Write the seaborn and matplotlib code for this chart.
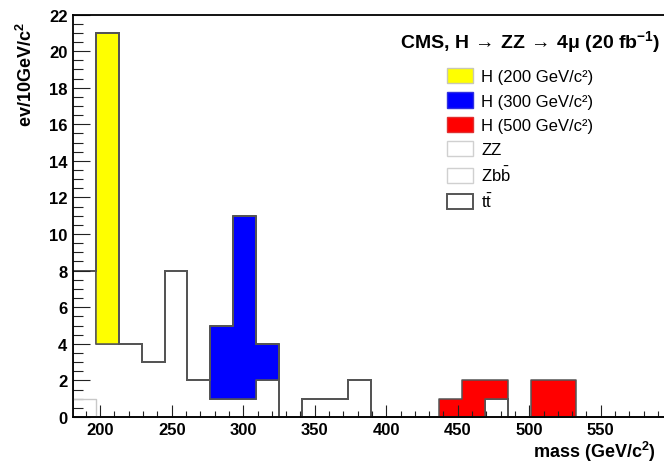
import numpy as np
import pandas as pd
import matplotlib
matplotlib.use("Agg")
import matplotlib.pyplot as plt
import seaborn as sns
from matplotlib.patches import Patch
from matplotlib.ticker import MultipleLocator

# ---- data (16 GeV bins starting at 181 GeV) ----
x_min = 181
bin_width = 16
n_bins = 26
edges = (x_min + bin_width * np.arange(n_bins + 1)).tolist()
centers = [e + bin_width / 2 for e in edges[:-1]]

# total background (ZZ + Zbb + tt), dark outline
bkg_total = [8, 4, 4, 3, 8, 2, 1, 1, 2, 0, 1, 1, 2, 0, 0, 0, 0, 0, 1, 0, 0, 0, 0, 0, 0, 0]
# lower background component (light grey outline)
bkg_low = [1, 0, 0, 0, 0, 0, 0, 0, 0, 0, 0, 0, 0, 0, 0, 0, 0, 0, 0, 0, 0, 0, 0, 0, 0, 0]
h200 = [0, 17, 0, 0, 0, 0, 0, 0, 0, 0, 0, 0, 0, 0, 0, 0, 0, 0, 0, 0, 0, 0, 0, 0, 0, 0]
h300 = [0, 0, 0, 0, 0, 0, 4, 10, 2, 0, 0, 0, 0, 0, 0, 0, 0, 0, 0, 0, 0, 0, 0, 0, 0, 0]
h500 = [0, 0, 0, 0, 0, 0, 0, 0, 0, 0, 0, 0, 0, 0, 0, 0, 1, 2, 1, 0, 2, 2, 0, 0, 0, 0]

legend_labels = ["H (200 GeV/c²)", "H (300 GeV/c²)", "H (500 GeV/c²)",
                 "ZZ", r"Zb$\bar{b}$", r"t$\bar{t}$"]

rows = []
for name, vals in [("H500", h500), ("H300", h300), ("H200", h200), ("bkg", bkg_total)]:
    for c, v in zip(centers, vals):
        rows.append((c, v, name))
df = pd.DataFrame(rows, columns=["mass", "w", "comp"])
df_low = pd.DataFrame({"mass": centers, "w": bkg_low})

# ---- style ----
plt.rcParams["font.family"] = ["Liberation Sans", "DejaVu Sans"]
plt.rcParams["font.weight"] = "bold"
plt.rcParams["mathtext.fontset"] = "custom"
plt.rcParams["mathtext.rm"] = "Liberation Sans"
plt.rcParams["mathtext.bf"] = "Liberation Sans:bold"
plt.rcParams["mathtext.it"] = "Liberation Sans:italic"
plt.rcParams["mathtext.default"] = "regular"

W, H = 664, 464
fig = plt.figure(figsize=(W / 100, H / 100), dpi=100)
ax = fig.add_axes([73 / W, 46 / H, 595 / W, 402.5 / H])

edge_dark = "#555555"
palette = {"H500": "#ff0000", "H300": "#0000ff", "H200": "#ffff00", "bkg": "white"}

sns.histplot(data=df, x="mass", weights="w", hue="comp",
             hue_order=["H500", "H300", "H200", "bkg"], palette=palette,
             bins=edges, multiple="stack", element="step", fill=True, alpha=1,
             edgecolor=edge_dark, linewidth=1.1, legend=False, ax=ax)

sns.histplot(data=df_low, x="mass", weights="w", bins=edges, element="step", fill=False,
             color="#c8c8c8", linewidth=1.0, ax=ax)

ax.set_xlim(181, 597)
ax.set_ylim(0, 22)
ax.set_xlabel("")
ax.set_ylabel("")

ax.xaxis.set_major_locator(MultipleLocator(50))
ax.xaxis.set_minor_locator(MultipleLocator(10))
ax.yaxis.set_major_locator(MultipleLocator(2))
ax.yaxis.set_minor_locator(MultipleLocator(0.5))
ax.tick_params(which="both", direction="in", top=False, right=False, color="#222222", width=0.8)
ax.tick_params(axis="x", which="major", length=8.5, pad=3.5, labelsize=12)
ax.tick_params(axis="x", which="minor", length=4.3)
ax.tick_params(axis="y", which="major", length=12.5, pad=4, labelsize=12)
ax.tick_params(axis="y", which="minor", length=7)
ax.spines["right"].set_visible(False)
for s in ["left", "bottom", "top"]:
    ax.spines[s].set_linewidth(1.3)

# ---- texts ----
fig.text(660 / W, 1 - 48 / H,
         r"CMS, H$\,\rightarrow\,$ZZ$\,\rightarrow\,$4μ (20 fb$^{-1}$)",
         ha="right", va="baseline", fontsize=14, fontweight="bold")
fig.text(656 / W, 1 - 458 / H, "mass (GeV/c$^{2}$)", ha="right", va="baseline",
         fontsize=13, fontweight="bold")
fig.text(26 / W, 1 - 75 / H, "ev/10GeV/c$^{2}$", rotation=90, ha="center", va="center",
         fontsize=13, fontweight="bold")

# ---- legend ----
handles = [
    Patch(facecolor="#ffff00", edgecolor="#c8c8b4", linewidth=1.0, label=legend_labels[0]),
    Patch(facecolor="#0000ff", edgecolor="#3030e0", linewidth=1.0, label=legend_labels[1]),
    Patch(facecolor="#ff0000", edgecolor="#e03030", linewidth=1.0, label=legend_labels[2]),
    Patch(facecolor="white", edgecolor="#d0d0d0", linewidth=1.0, label=legend_labels[3]),
    Patch(facecolor="white", edgecolor="#d0d0d0", linewidth=1.0, label=legend_labels[4]),
    Patch(facecolor="white", edgecolor="#555555", linewidth=1.4, label=legend_labels[5]),
]
ax.legend(handles=handles, loc="upper left", bbox_to_anchor=(447 / W, 1 - 69 / H),
          bbox_transform=fig.transFigure, frameon=False,
          prop={"family": ["Liberation Sans", "DejaVu Sans"], "weight": "normal", "size": 12},
          handlelength=1.55, handleheight=1.05, handletextpad=0.5, labelspacing=0.47,
          borderpad=0, borderaxespad=0)

fig.savefig("out.png", dpi=100)
